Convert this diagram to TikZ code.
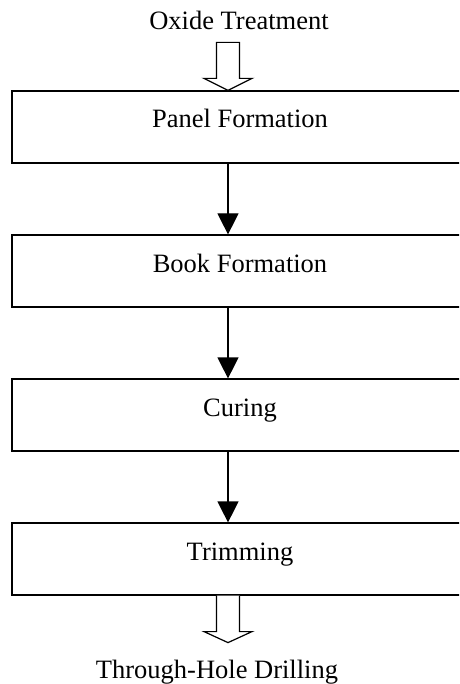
\documentclass[tikz,border=0pt]{standalone}
\usepackage{fontspec}
\setmainfont{Liberation Serif}
\usetikzlibrary{arrows.meta}
\begin{document}
\begin{tikzpicture}[x=1pt,y=-1pt,
  stagebox/.style={draw, line width=1.2pt, minimum width=456pt, minimum height=72pt,
    inner sep=0pt, text height=10pt, text depth=8pt, font=\fontsize{26.5}{30}\selectfont},
  caption/.style={inner sep=0pt, anchor=base, font=\fontsize{26.5}{30}\selectfont},
  flow/.style={line width=1.2pt, -{Triangle[width=21pt,length=21pt]}},
  hollow/.style={draw, line width=1.2pt, fill=white, line join=miter}]
  \useasboundingbox (0,0) rectangle (459,684);
  \clip (0,0) rectangle (459,684);

  % process stages
  \node[stagebox] (panel) at (240,127) {Panel Formation};
  \node[stagebox] (book)  at (240,271) {Book Formation};
  \node[stagebox] (cure)  at (240,415) {Curing};
  \node[stagebox] (trim)  at (240,559) {Trimming};

  % incoming and outgoing steps
  \node[caption] (oxide) at (239,29.5) {Oxide Treatment};
  \node[caption] (drill) at (217,678) {Through-Hole Drilling};

  % axis of the connectors
  \coordinate (ax) at (228,0);

  % block arrow into the first stage (drawn from its tip)
  \draw[hollow] (panel.north -| ax) -- ++(-24,-12) -- ++(12.5,0) -- ++(0,-36)
     -- ++(23,0) -- ++(0,36) -- ++(12.5,0) -- cycle;

  % stage to stage
  \draw[flow] (panel.south -| ax) -- (book.north -| ax);
  \draw[flow] (book.south -| ax) -- (cure.north -| ax);
  \draw[flow] (cure.south -| ax) -- (trim.north -| ax);

  % block arrow out of the last stage
  \draw[hollow] (trim.south -| ax) ++(-11.5,0) -- ++(0,36) -- ++(-12.5,0)
     -- ++(24,11) -- ++(24,-11) -- ++(-12.5,0) -- ++(0,-36);
\end{tikzpicture}
\end{document}
